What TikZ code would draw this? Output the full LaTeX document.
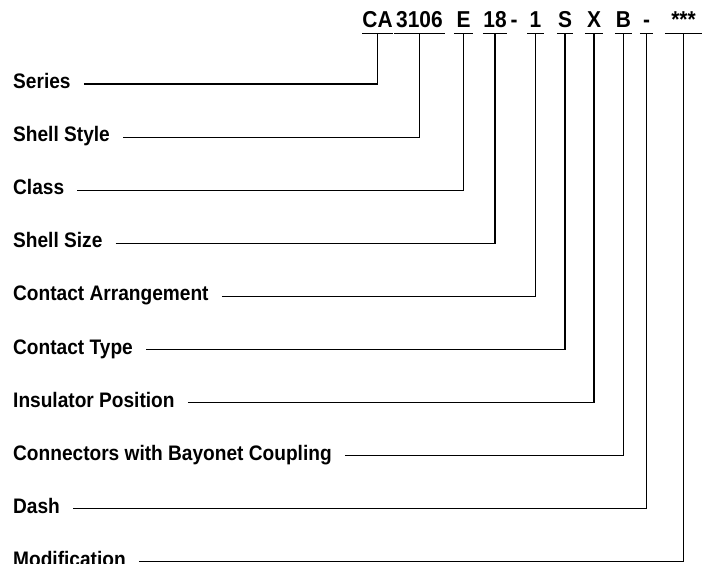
\documentclass[tikz,border=0pt]{standalone}
\usepackage{fontspec}
\newfontfamily\condfont[FakeStretch=0.91]{Liberation Sans Bold}
\usetikzlibrary{positioning}

\begin{document}
\begin{tikzpicture}[
  x=1pt, y=-1pt,
  part/.style={anchor=base, inner xsep=0pt, inner ysep=6pt, text depth=0pt,
               font=\condfont\fontsize{23}{23}\selectfont},
  lbl/.style={anchor=west, inner sep=0pt, text height=9pt, text depth=0pt,
              font=\condfont\fontsize{21}{21}\selectfont},
  link/.style={line width=1.1pt, color=black}
]
  \clip (0,0) rectangle (710,563);

  % part number
  \node[part, minimum width=29pt] (ca) at (377.5,27) {CA};
  \node[part, minimum width=51pt] (shell) at (419.5,27) {3106};
  \node[part, minimum width=19pt] (cls) at (463.5,27) {E};
  \node[part, minimum width=24pt] (size) at (495,27) {18};
  \node[part] (sep) at (514,27) {-};
  \node[part, minimum width=16pt] (arr) at (535.5,27) {1};
  \node[part, minimum width=16pt] (ctype) at (565,27) {S};
  \node[part, minimum width=18pt] (ipos) at (594,27) {X};
  \node[part, minimum width=17pt] (bay) at (623.5,27) {B};
  \node[part, minimum width=13pt] (dsh) at (646.5,27) {-};
  \node[part, minimum width=37pt] (mod) at (683.5,27) {***};

  % descriptions
  \node[lbl] (lseries) at (13,84) {Series};
  \node[lbl] (lstyle) at (13,137.1) {Shell Style};
  \node[lbl] (lclass) at (13,190.2) {Class};
  \node[lbl] (lsize) at (13,243.3) {Shell Size};
  \node[lbl] (larr) at (13,296.4) {Contact Arrangement};
  \node[lbl] (ltype) at (13,349.5) {Contact Type};
  \node[lbl] (lpos) at (13,402.6) {Insulator Position};
  \node[lbl] (lbay) at (13,455.7) {Connectors with Bayonet Coupling};
  \node[lbl] (ldash) at (13,508.8) {Dash};
  \node[lbl] (lmod) at (13,561.9) {Modification};

  % underlines
  \foreach \p in {ca, shell, cls, size, arr, ctype, ipos, bay, dsh, mod}
    \draw[link] (\p.south west) -- (\p.south east);

  % leaders
  \foreach \l/\p in {lseries/ca, lstyle/shell, lclass/cls, lsize/size,
                     larr/arr, ltype/ctype, lpos/ipos, lbay/bay,
                     ldash/dsh, lmod/mod}
    \draw[link] ([xshift=13pt]\l.east) -| (\p.south);
\end{tikzpicture}
\end{document}
